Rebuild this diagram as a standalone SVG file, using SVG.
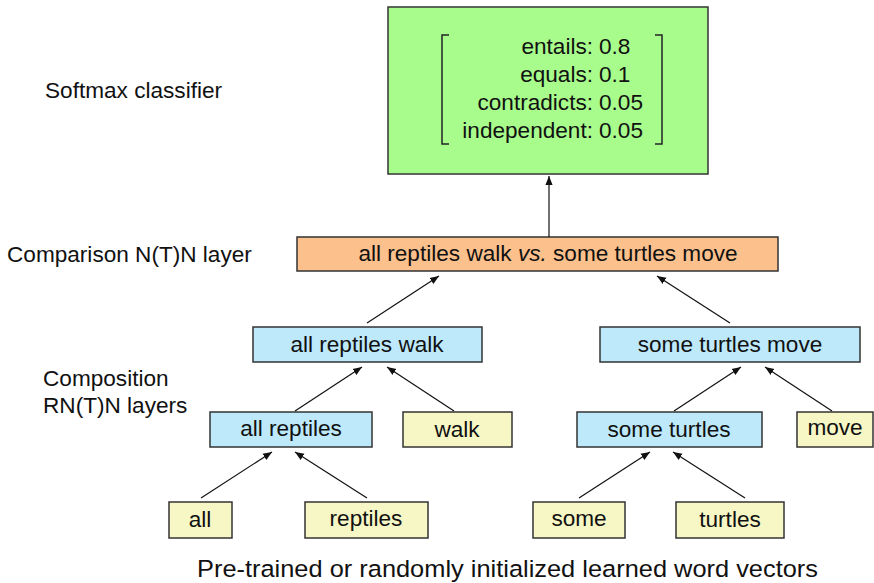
<svg xmlns="http://www.w3.org/2000/svg" width="874" height="583" viewBox="0 0 874 583">
<style>
text{font-family:"Liberation Sans",Arial,sans-serif;font-size:22.6px;fill:#111}
.box{stroke:#333;stroke-width:1.5}
.green{fill:#a8fc8c}
.orange{fill:#fcc08c}
.blue{fill:#bde9fb}
.yellow{fill:#f7f7c6}
.c{text-anchor:middle}
.edge{stroke:#111;stroke-width:1.2;fill:none;marker-end:url(#ah)}
.br{stroke:#222;stroke-width:1.5;fill:none}
</style>
<defs>
<marker id="ah" viewBox="0 0 10 10" refX="10" refY="5" markerWidth="9" markerHeight="9" markerUnits="userSpaceOnUse" orient="auto">
<path d="M0,1 L10,5 L0,9 z" fill="#111"/>
</marker>
</defs>
<rect width="874" height="583" fill="#fff"/>

<g id="labels">
<text x="45" y="98">Softmax classifier</text>
<text x="7" y="262">Comparison N(T)N layer</text>
<text x="43" y="386">Composition</text>
<text x="43" y="413">RN(T)N layers</text>
<text x="197" y="577" textLength="621" lengthAdjust="spacingAndGlyphs" style="font-size:24.5px">Pre-trained or randomly initialized learned word vectors</text>
</g>

<g id="softmax">
<rect class="box green" x="388" y="7" width="320" height="167"/>
<path class="br" d="M449,35 H442 V144 H449"/>
<path class="br" d="M655,35 H662 V144 H655"/>
<text y="54"><tspan x="593" text-anchor="end">entails:</tspan><tspan x="599">0.8</tspan></text>
<text y="82"><tspan x="593" text-anchor="end">equals:</tspan><tspan x="599">0.1</tspan></text>
<text y="110"><tspan x="593" text-anchor="end">contradicts:</tspan><tspan x="599">0.05</tspan></text>
<text y="138"><tspan x="593" text-anchor="end">independent:</tspan><tspan x="599">0.05</tspan></text>
</g>

<g id="comparison">
<rect class="box orange" x="297" y="237" width="481" height="34"/>
<text x="548" y="261" class="c">all reptiles walk <tspan font-style="italic">vs.</tspan> some turtles move</text>
</g>

<g id="all-reptiles-walk">
<rect class="box blue" x="253" y="327" width="229" height="35"/>
<text x="367" y="352" class="c">all reptiles walk</text>
</g>
<g id="some-turtles-move">
<rect class="box blue" x="600" y="327" width="260" height="35"/>
<text x="730" y="352" class="c">some turtles move</text>
</g>
<g id="all-reptiles">
<rect class="box blue" x="210" y="412" width="162" height="35"/>
<text x="291" y="436" class="c">all reptiles</text>
</g>
<g id="walk">
<rect class="box yellow" x="403" y="412" width="109" height="35"/>
<text x="457" y="437" class="c">walk</text>
</g>
<g id="some-turtles">
<rect class="box blue" x="577" y="412" width="185" height="35"/>
<text x="669" y="437" class="c">some turtles</text>
</g>
<g id="move">
<rect class="box yellow" x="797" y="412" width="76" height="35"/>
<text x="835" y="435" class="c">move</text>
</g>
<g id="all">
<rect class="box yellow" x="169" y="502" width="63" height="36"/>
<text x="200" y="527" class="c">all</text>
</g>
<g id="reptiles">
<rect class="box yellow" x="305" y="502" width="123" height="36"/>
<text x="366" y="526" class="c">reptiles</text>
</g>
<g id="some">
<rect class="box yellow" x="533" y="502" width="92" height="36"/>
<text x="579" y="526" class="c">some</text>
</g>
<g id="turtles">
<rect class="box yellow" x="676" y="502" width="108" height="36"/>
<text x="730" y="527" class="c">turtles</text>
</g>

<g id="connectors">
<line class="edge" x1="549" y1="237" x2="549" y2="176"/>
<line class="edge" x1="367" y1="323" x2="439" y2="276"/>
<line class="edge" x1="730" y1="323" x2="657" y2="276"/>
<line class="edge" x1="295" y1="411" x2="362" y2="367"/>
<line class="edge" x1="454" y1="411" x2="387" y2="367"/>
<line class="edge" x1="674" y1="411" x2="741" y2="367"/>
<line class="edge" x1="832" y1="411" x2="765" y2="367"/>
<line class="edge" x1="201" y1="498" x2="272" y2="452"/>
<line class="edge" x1="367" y1="498" x2="295" y2="452"/>
<line class="edge" x1="579" y1="498" x2="650" y2="452"/>
<line class="edge" x1="745" y1="498" x2="673" y2="452"/>
</g>
</svg>
